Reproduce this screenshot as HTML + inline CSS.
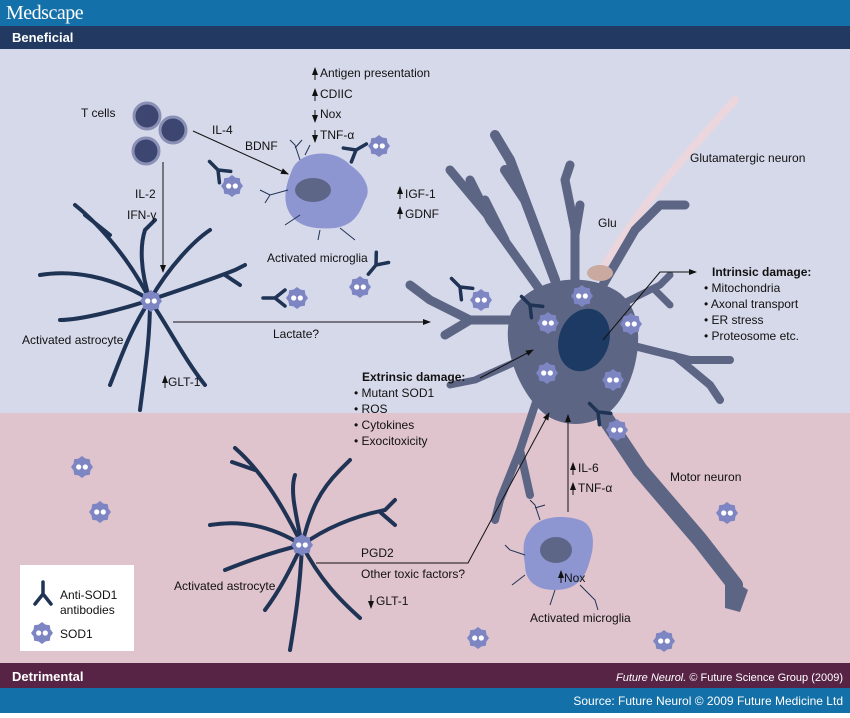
<!DOCTYPE html>
<html><head><style>
html,body{margin:0;padding:0;}
body{width:850px;height:713px;overflow:hidden;font-family:"Liberation Sans",sans-serif;}
svg text{font-family:"Liberation Sans",sans-serif;font-size:12px;fill:#111;}
</style></head><body>
<svg width="850" height="713" viewBox="0 0 850 713" xmlns="http://www.w3.org/2000/svg">
<defs>
<g id="sod">
<polygon points="0,-11 3.5,-8.4 7.8,-7.8 8.4,-3.5 11,0 8.4,3.5 7.8,7.8 3.5,8.4 0,11 -3.5,8.4 -7.8,7.8 -8.4,3.5 -11,0 -8.4,-3.5 -7.8,-7.8 -3.5,-8.4" fill="#7d85c2"/>
<circle cx="-3.3" cy="0" r="2.6" fill="#fff"/><circle cx="3.3" cy="0" r="2.6" fill="#fff"/>
</g>
<g id="ab" stroke="#1f3355" stroke-width="3.5" fill="none" stroke-linecap="round">
<path d="M0,0 L0,-12 M0,0 L-8,10 M0,0 L8,10"/>
</g>
<marker id="ar" markerWidth="8" markerHeight="8" refX="7" refY="4" orient="auto" markerUnits="userSpaceOnUse"><path d="M0,1 L8,4 L0,7z" fill="#111"/></marker>
</defs>
<rect width="850" height="713" fill="#d6d9ea"/>
<rect y="0" width="850" height="26" fill="#1470a8"/>
<text x="6" y="19" style="font-family:'Liberation Serif',serif;font-size:20px;fill:#fff;letter-spacing:-0.5px">Medscape</text>
<rect y="26" width="850" height="23" fill="#223a62"/>
<text x="12" y="42" style="font-size:13px;font-weight:bold;fill:#fff">Beneficial</text>
<rect y="413" width="850" height="250" fill="#dfc3cd"/>
<rect y="663" width="850" height="25" fill="#572446"/>
<text x="12" y="681" style="font-size:13px;font-weight:bold;fill:#fff">Detrimental</text>
<text x="843" y="681" text-anchor="end" style="font-size:11px;fill:#fff"><tspan font-style="italic">Future Neurol.</tspan> © Future Science Group (2009)</text>
<rect y="688" width="850" height="25" fill="#1470a8"/>
<text x="843" y="705" text-anchor="end" style="font-size:12px;fill:#fff">Source: Future Neurol © 2009 Future Medicine Ltd</text>

<!-- glutamatergic fibre -->
<path d="M601,272 C630,220 680,160 735,100" stroke="#ead6dc" stroke-width="8" fill="none" stroke-linecap="round"/>
<!-- neuron -->
<g fill="none" stroke="#5d6585" stroke-linecap="round" stroke-linejoin="round">
<path d="M540,290 L490,220 L470,180 M500,230 L450,170 M505,240 L485,200" stroke-width="9"/>
<path d="M555,280 L510,160 L495,135 M525,200 L505,170" stroke-width="10"/>
<path d="M575,285 L575,230 L565,180 L570,165 M575,235 L580,205" stroke-width="9"/>
<path d="M600,290 L635,230 L660,205 L685,205" stroke-width="9"/>
<path d="M620,305 L660,285 L670,275 M655,290 L670,305" stroke-width="7"/>
<path d="M630,345 L690,360 L730,360 M675,356 L710,385 L720,400" stroke-width="8"/>
<path d="M510,320 L470,320 L430,300 L410,285 M470,320 L445,335" stroke-width="9"/>
<path d="M520,360 L475,380 L450,385" stroke-width="7"/>
<path d="M540,390 L520,450 L500,500 L495,520 M520,450 L530,495" stroke-width="8"/>
<path d="M590,395 L640,470 L700,540 L735,585" stroke-width="16"/>
</g>
<path d="M512,310 C530,280 580,270 615,290 C650,310 640,370 620,400 C600,430 560,430 540,410 C515,385 500,340 512,310z" fill="#5d6585"/>
<path d="M725,575 L748,590 L740,612 L725,608z" fill="#5d6585"/>
<ellipse cx="600" cy="273" rx="13" ry="8" fill="#c9a9a0"/>
<ellipse cx="584" cy="340" rx="25" ry="32" transform="rotate(20 584 340)" fill="#1c3a63"/>

<!-- T cells -->
<g fill="#3d4670" stroke="#8a90b5" stroke-width="3">
<circle cx="147" cy="116" r="13"/><circle cx="173" cy="130" r="13"/><circle cx="146" cy="151" r="13"/>
</g>
<text x="81" y="117">T cells</text>

<!-- astrocyte 1 -->
<g fill="none" stroke="#1f3355" stroke-width="4" stroke-linecap="round">
<path d="M150,300 C130,260 100,225 75,205 M110,235 L85,215"/>
<path d="M150,300 C110,275 70,270 40,275"/>
<path d="M150,300 C120,310 80,320 60,320"/>
<path d="M150,300 C140,270 140,245 145,230 L155,220"/>
<path d="M150,300 C170,265 195,240 210,230"/>
<path d="M150,300 C180,290 210,280 235,270 L245,265 M225,275 L240,285"/>
<path d="M150,300 C150,340 145,370 140,410"/>
<path d="M150,300 C170,330 185,360 205,385"/>
<path d="M150,300 C130,330 120,360 110,385"/>
</g>
<use href="#sod" x="151" y="301" transform="scale(1)"/>
<text x="22" y="344">Activated astrocyte</text>
<text x="168" y="386">GLT-1</text>
<line x1="165" y1="388" x2="165" y2="376" stroke="#111" marker-end="url(#ar)"/>

<line x1="163" y1="162" x2="163" y2="272" stroke="#111" marker-end="url(#ar)"/>
<text x="135" y="198">IL-2</text><text x="127" y="219">IFN-γ</text>
<line x1="193" y1="131" x2="288" y2="174" stroke="#111" marker-end="url(#ar)"/>
<text x="212" y="134">IL-4</text><text x="245" y="150">BDNF</text>

<!-- microglia 1 -->
<path d="M292,170 C300,150 335,148 350,165 C365,175 372,190 365,200 C360,212 355,225 335,228 C310,230 295,225 288,210 C282,195 288,180 292,170z" fill="#8e96d2"/>
<ellipse cx="313" cy="190" rx="18" ry="12" fill="#5e6688"/>
<g stroke="#1f3355" stroke-width="1" fill="none">
<path d="M300,160 L295,145 L290,140 M295,148 L302,140 M305,155 L310,145"/>
<path d="M288,190 L270,195 L260,190 M270,195 L265,203"/>
<path d="M300,215 L285,225 M340,228 L355,240 M320,230 L318,240"/>
</g>
<text x="267" y="262">Activated microglia</text>
<text x="320" y="77">Antigen presentation</text>
<text x="320" y="98">CDIIC</text>
<text x="320" y="118">Nox</text>
<text x="320" y="139">TNF-α</text>
<g stroke="#111"><line x1="315" y1="80" x2="315" y2="68" marker-end="url(#ar)"/><line x1="315" y1="101" x2="315" y2="89" marker-end="url(#ar)"/><line x1="315" y1="110" x2="315" y2="122" marker-end="url(#ar)"/><line x1="315" y1="130" x2="315" y2="142" marker-end="url(#ar)"/>
<line x1="400" y1="199" x2="400" y2="187" marker-end="url(#ar)"/><line x1="400" y1="219" x2="400" y2="207" marker-end="url(#ar)"/></g>
<text x="405" y="198">IGF-1</text><text x="405" y="218">GDNF</text>
<text x="690" y="162">Glutamatergic neuron</text>
<text x="598" y="227">Glu</text>

<!-- antibodies & SOD1 top -->
<use href="#ab" transform="translate(218,170) rotate(-45)"/><use href="#sod" x="232" y="186"/>
<use href="#ab" transform="translate(356,150) rotate(60)"/><use href="#sod" x="379" y="146"/>
<use href="#ab" transform="translate(376,265) rotate(220)"/><use href="#sod" x="360" y="287"/>
<use href="#ab" transform="translate(275,298) rotate(-90)"/><use href="#sod" x="297" y="298"/>
<use href="#ab" transform="translate(460,287) rotate(-45)"/><use href="#sod" x="481" y="300"/>
<use href="#ab" transform="translate(530,305) rotate(-45)"/><use href="#sod" x="548" y="323"/>
<use href="#sod" x="582" y="296"/><use href="#sod" x="631" y="324"/><use href="#sod" x="547" y="373"/><use href="#sod" x="613" y="380"/>
<use href="#ab" transform="translate(598,412) rotate(-45)"/><use href="#sod" x="617" y="430"/>

<line x1="173" y1="322" x2="430" y2="322" stroke="#111" marker-end="url(#ar)"/>
<text x="273" y="338">Lactate?</text>
<polyline points="603,340 660,272 696,272" fill="none" stroke="#111" marker-end="url(#ar)"/>
<text x="712" y="276" font-weight="bold">Intrinsic damage:</text>
<text x="704" y="292">• Mitochondria</text>
<text x="704" y="308">• Axonal transport</text>
<text x="704" y="324">• ER stress</text>
<text x="704" y="340">• Proteosome etc.</text>
<line x1="480" y1="378" x2="533" y2="350" stroke="#111" marker-end="url(#ar)"/>
<text x="362" y="381" font-weight="bold">Extrinsic damage:</text>
<text x="354" y="397">• Mutant SOD1</text>
<text x="354" y="413">• ROS</text>
<text x="354" y="429">• Cytokines</text>
<text x="354" y="445">• Exocitoxicity</text>

<!-- astrocyte 2 -->
<g fill="none" stroke="#1f3355" stroke-width="4" stroke-linecap="round">
<path d="M302,545 C280,500 260,470 235,448 M255,470 L232,462"/>
<path d="M302,545 C270,525 240,520 210,525"/>
<path d="M302,545 C280,550 250,560 225,570"/>
<path d="M302,545 C295,510 290,490 295,475"/>
<path d="M302,545 C310,510 320,490 340,470 L350,460"/>
<path d="M302,545 C330,525 360,515 385,510 L395,500 M380,512 L395,525"/>
<path d="M302,545 C300,590 295,620 290,650"/>
<path d="M302,545 C320,580 340,600 360,618"/>
<path d="M302,545 C290,570 280,590 265,610"/>
</g>
<use href="#sod" x="302" y="545"/>
<text x="174" y="590">Activated astrocyte</text>
<text x="376" y="605">GLT-1</text>
<line x1="371" y1="595" x2="371" y2="608" stroke="#111" marker-end="url(#ar)"/>
<polyline points="316,563 468,563 549,413" fill="none" stroke="#111" marker-end="url(#ar)"/>
<text x="361" y="557">PGD2</text>
<text x="361" y="578">Other toxic factors?</text>

<!-- microglia 2 -->
<path d="M530,530 C540,515 565,515 580,520 C595,525 595,545 590,560 C585,580 575,590 555,590 C535,590 525,580 525,565 C523,550 522,540 530,530z" fill="#8e96d2"/>
<ellipse cx="556" cy="550" rx="16" ry="13" fill="#5e6688"/>
<g stroke="#1f3355" stroke-width="1" fill="none">
<path d="M540,520 L535,505 L530,500 M535,508 L545,505"/>
<path d="M525,555 L510,550 L505,545 M525,575 L512,585 M555,590 L550,605 M580,585 L595,600 L598,610"/>
</g>
<text x="564" y="582">Nox</text>
<line x1="561" y1="583" x2="561" y2="571" stroke="#111" marker-end="url(#ar)"/>
<text x="530" y="622">Activated microglia</text>
<line x1="568" y1="512" x2="568" y2="415" stroke="#111" marker-end="url(#ar)"/>
<text x="578" y="472">IL-6</text><text x="578" y="492">TNF-α</text>
<g stroke="#111"><line x1="573" y1="475" x2="573" y2="463" marker-end="url(#ar)"/><line x1="573" y1="495" x2="573" y2="483" marker-end="url(#ar)"/></g>
<text x="670" y="481">Motor neuron</text>

<use href="#sod" x="82" y="467"/><use href="#sod" x="100" y="512"/><use href="#sod" x="727" y="513"/>
<use href="#sod" x="478" y="638"/><use href="#sod" x="664" y="641"/>

<!-- legend -->
<rect x="20" y="565" width="114" height="86" fill="#fff"/>
<use href="#ab" transform="translate(43,594)"/>
<text x="60" y="599">Anti-SOD1</text><text x="60" y="614">antibodies</text>
<use href="#sod" x="42" y="633"/>
<text x="60" y="638">SOD1</text>
</svg>
</body></html>
